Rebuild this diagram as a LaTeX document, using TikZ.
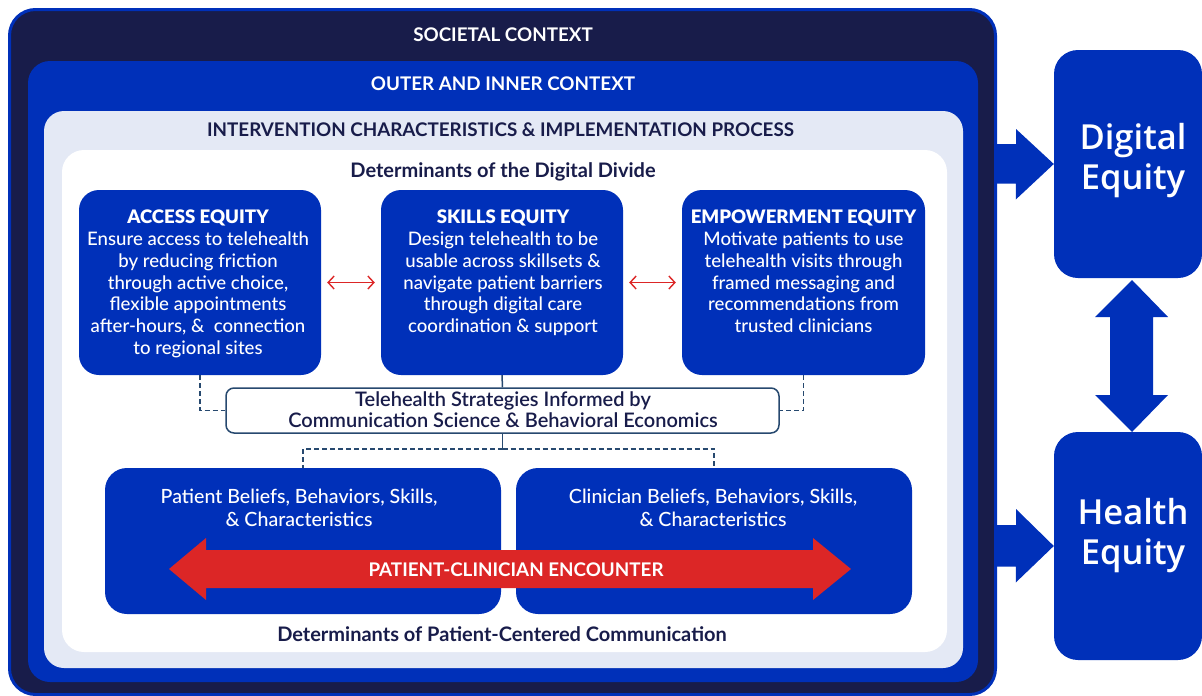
\documentclass[tikz,border=0pt]{standalone}
\usepackage{fontspec}
\setmainfont{Lato}
\IfFontExistsTF{Lato Medium}
  {\newfontfamily\midfont{Lato Medium}}
  {\newfontfamily\midfont{Lato}}
\IfFontExistsTF{Lato Semibold}
  {\newfontfamily\semifont{Lato Semibold}}
  {\newfontfamily\semifont{Lato Bold}}
\IfFontExistsTF{Open Sans SemiBold}
  {\newfontfamily\eqfont{Open Sans SemiBold}}
  {\IfFontExistsTF{Open Sans Semibold}
     {\newfontfamily\eqfont{Open Sans Semibold}}
     {\newfontfamily\eqfont{Open Sans Bold}}}
\usetikzlibrary{arrows.meta,calc}

\definecolor{navy}{HTML}{181C4A}
\definecolor{royal}{HTML}{0030B9}
\definecolor{mist}{HTML}{E4E9F5}
\definecolor{alert}{HTML}{DC2626}
\definecolor{steel}{HTML}{27496F}

\tikzset{
  bluebox/.style={rectangle, fill=royal, rounded corners=20, inner sep=0},
  capshead/.style={font=\bfseries\fontsize{18.8}{22}\selectfont, inner sep=0},
  mixhead/.style={font=\bfseries\fontsize{20}{24}\selectfont, inner sep=0, text=navy},
  boxtext/.style={text=white, align=center, anchor=north, inner sep=0,
    font=\midfont\fontsize{18.6}{21.7}\selectfont},
  dashlink/.style={draw=steel, line width=1.5, dash pattern=on 5pt off 3pt},
  solidlink/.style={draw=steel, line width=1.5},
  twoway/.style={draw=alert, line width=1.4,
    {Straight Barb[length=6pt,width=13pt]}-{Straight Barb[length=6pt,width=13pt]},
    shorten <=6pt, shorten >=6pt},
  bigarrow/.style={fill=royal},
  outcome/.style={text=white, align=center, inner sep=0,
    font=\eqfont\fontsize{34.5}{40}\selectfont},
}

\begin{document}
\begin{tikzpicture}[x=1pt,y=-1pt]
\path[use as bounding box] (0,0) rectangle (1202,696);

% nested context frames
\node[draw=royal, line width=3, fill=navy, rounded corners=26, inner sep=0,
      minimum width=986, minimum height=685] (societal) at (502.5,352) {};
\node[fill=royal, rounded corners=22, inner sep=0,
      minimum width=950, minimum height=621] (outer) at (503,371.5) {};
\node[fill=mist, rounded corners=20, inner sep=0,
      minimum width=919, minimum height=557] (process) at (503.5,389.5) {};
\node[fill=white, rounded corners=22, inner sep=0,
      minimum width=885, minimum height=502] (divide) at (504.5,401) {};

\node[capshead, text=white] (tsoc) at (503,34.5) {SOCIETAL CONTEXT};
\node[capshead, text=white] (tout) at (503,84) {OUTER AND INNER CONTEXT};
\node[capshead, text=navy] (tproc) at (500.5,129.5) {INTERVENTION CHARACTERISTICS \& IMPLEMENTATION PROCESS};
\node[mixhead] (tdiv) at (503,172) {Determinants of the Digital Divide};
\node[mixhead] (tpcc) at (502,634.5) {Determinants of Patient-Centered Communication};

% equity domains
\node[bluebox, minimum width=242, minimum height=185] (access) at (200,282.5) {};
\node[bluebox, minimum width=242, minimum height=185] (skills) at (502,282.5) {};
\node[bluebox, minimum width=243, minimum height=185] (empower) at (803.5,282.5) {};

\node[boxtext] (taccess) at (198,210) {{\bfseries ACCESS EQUITY}\\
  Ensure access to telehealth\\ by reducing friction\\ through active choice,\\
  flexible appointments\\ after-hours, \&\ \ connection\\ to regional sites};
\node[boxtext] (tskills) at (503,210) {{\bfseries SKILLS EQUITY}\\
  Design telehealth to be\\ usable across skillsets \&\\ navigate patient barriers\\
  through digital care\\ coordination \& support};
\node[boxtext] (tempower) at (803.5,210) {{\bfseries EMPOWERMENT EQUITY}\\
  Motivate patients to use\\ telehealth visits through\\ framed messaging and\\
  recommendations from\\ trusted clinicians};

\draw[twoway] (access) -- (skills);
\draw[twoway] (skills) -- (empower);

% strategies box and its links
\node[draw=steel, line width=1.5, fill=white, rounded corners=8, inner sep=0,
      minimum width=553, minimum height=45] (tele) at (502.5,410.5) {};
\node[text=navy, align=center, inner sep=0,
      font=\semifont\fontsize{20}{21}\selectfont] (ttele) at (503,410)
      {Telehealth Strategies Informed by\\ Communication Science \& Behavioral Economics};

\draw[dashlink] (access.south) |- (tele.west);
\draw[dashlink] (empower.south) |- (tele.east);
\draw[solidlink] (skills.south) -- (tele.north);

% patient and clinician
\node[bluebox, rounded corners=22, minimum width=396, minimum height=146] (patient) at (303,541) {};
\node[bluebox, rounded corners=22, minimum width=396, minimum height=146] (clinician) at (714,541) {};
\node[boxtext, font=\midfont\fontsize{19.6}{23}\selectfont] (tpatient) at (299,488.5)
  {Patient Beliefs, Behaviors, Skills,\\ \& Characteristics};
\node[boxtext, font=\midfont\fontsize{19.6}{23}\selectfont] (tclinician) at (713,488.5)
  {Clinician Beliefs, Behaviors, Skills,\\ \& Characteristics};

\coordinate (split) at ($(tele.south)+(0,15)$);
\draw[solidlink] (tele.south) -- (split);
\draw[dashlink] (split) -| (patient.north);
\draw[dashlink] (split) -| (clinician.north);

% encounter arrow
\fill[alert] (169,569) -- (206,538) -- (206,550) -- (813,550) -- (813,538)
  -- (851,569) -- (813,600) -- (813,588) -- (206,588) -- (206,600) -- cycle;
\node[capshead, text=white] (tenc) at (516,569.5) {PATIENT-CLINICIAN ENCOUNTER};

% outcomes
\node[bluebox, rounded corners=24, minimum width=148, minimum height=228] (digital) at (1128,164) {};
\node[bluebox, rounded corners=24, minimum width=148, minimum height=228] (health) at (1128,546) {};
\node[outcome] (tdigital) at (1133,161) {Digital\\Equity};
\node[outcome] (thealth) at (1133,536) {Health\\Equity};

\fill[bigarrow] (societal.east |- digital.west) ++(0,-20) -- ++(19,0) -- ++(0,-15)
  -- (digital.west) -- ++(-38,35.5) -- ++(0,-16) -- ++(-19,0) -- cycle;
\fill[bigarrow] (societal.east |- health.west) ++(0,-21) -- ++(19,0) -- ++(0,-16)
  -- (health.west) -- ++(-38,36.5) -- ++(0,-16) -- ++(-19,0) -- cycle;
\fill[bigarrow] (1132,280) -- (1168,317) -- (1153,317) -- (1153,395) -- (1168,395)
  -- (1132,432) -- (1095,395) -- (1110,395) -- (1110,317) -- (1095,317) -- cycle;
\end{tikzpicture}
\end{document}
